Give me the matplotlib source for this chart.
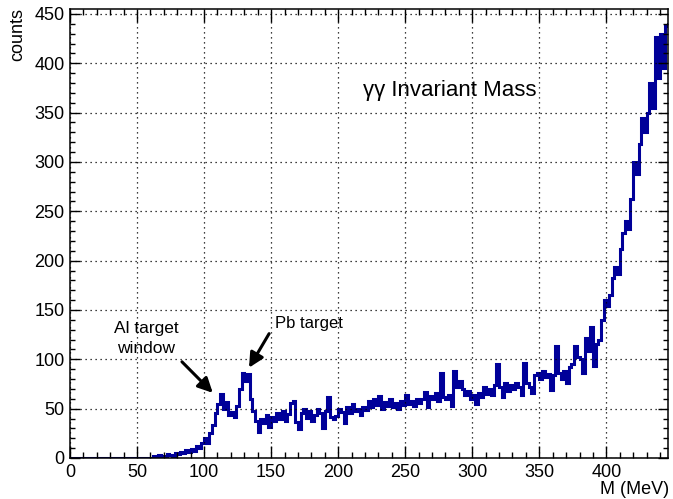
import numpy as np
import matplotlib
matplotlib.use('Agg')
import matplotlib.pyplot as plt
from matplotlib.ticker import MultipleLocator

plt.rcParams['font.family'] = ['Liberation Sans', 'DejaVu Sans']

# histogram of gamma-gamma invariant mass, 2 MeV bins starting at 0
bin_width = 2
counts = [0] * 31 + [
    2, 1, 3, 2, 1, 4, 3, 2, 5,                      # 62-78
    4, 6, 5, 8, 6, 9, 7, 12, 10, 15,                # 80-98
    20, 15, 25, 33, 46, 55, 65, 50, 57, 44,         # 100-118
    47, 42, 53, 70, 86, 78, 85, 60, 48, 38,         # 120-138
    26, 40, 35, 44, 31, 42, 38, 46, 40, 48,         # 140-158
    37, 45, 56, 58, 36, 29, 46, 50, 41, 48,         # 160-178
    38, 44, 50, 46, 30, 48, 62, 42, 40, 43,         # 180-198
    50, 47, 35, 52, 46, 55, 48, 50, 44, 52,         # 200-218
    49, 58, 52, 60, 54, 63, 50, 57, 53, 60,         # 220-238
    52, 56, 50, 58, 54, 64, 55, 58, 53, 60,         # 240-258
    56, 60, 67, 52, 63, 60, 66, 58, 86, 62,         # 260-278
    60, 64, 53, 88, 72, 78, 70, 64, 68, 60,         # 280-298
    64, 55, 66, 62, 72, 65, 70, 64, 74, 95,         # 300-318
    72, 62, 76, 68, 74, 70, 76, 72, 64, 96,         # 320-338
    76, 72, 66, 84, 86, 80, 88, 82, 85, 69,         # 340-358
    84, 113, 86, 80, 88, 76, 92, 95, 113, 102,      # 360-378
    100, 86, 122, 108, 133, 93, 116, 120, 140, 160, # 380-398
    154, 165, 182, 194, 186, 212, 228, 240, 232, 262,  # 400-418
    300, 288, 318, 345, 330, 350, 380, 355, 427, 385,  # 420-438
    430, 395, 438, 440,                             # 440-446
]
edges = np.arange(len(counts) + 1) * bin_width

x_ticks = [0, 50, 100, 150, 200, 250, 300, 350, 400]
y_ticks = [0, 50, 100, 150, 200, 250, 300, 350, 400, 450]

fig = plt.figure(figsize=(6.73, 4.99), dpi=100)
ax = fig.add_axes([70 / 673, 1 - 458 / 499, 598 / 673, 449 / 499])

ax.stairs(counts, edges, color='#000099', lw=2.2, baseline=None)

ax.set_xlim(0, 446)
ax.set_ylim(0, 455)
ax.set_xticks(x_ticks)
ax.set_yticks(y_ticks)
ax.xaxis.set_minor_locator(MultipleLocator(10))
ax.yaxis.set_minor_locator(MultipleLocator(10))
ax.tick_params(which='both', direction='in', top=True, right=True,
               labelsize=13, width=1.0, pad=4)
ax.tick_params(axis='x', which='major', length=9)
ax.tick_params(axis='x', which='minor', length=4.5)
ax.tick_params(axis='y', which='major', length=7)
ax.tick_params(axis='y', which='minor', length=3.5)
for sp in ax.spines.values():
    sp.set_linewidth(1.1)

ax.grid(True, which='major', linestyle=(0, (1, 3)), color='black', lw=0.9)

fig.text(669 / 673, 1 - 490 / 499, 'M (MeV)', ha='right', va='center', fontsize=13)
fig.text(18 / 673, 1 - 8 / 499, 'counts', ha='center', va='top', rotation=90, fontsize=13)

ax.text(283, 372, 'γγ Invariant Mass', ha='center', va='center', fontsize=16)
ax.text(57, 121, 'Al target\nwindow', ha='center', va='center', fontsize=12.5,
        linespacing=1.45)
ax.text(178, 136, 'Pb target', ha='center', va='center', fontsize=12)

arrow = dict(arrowstyle='-|>', lw=2.2, color='black', mutation_scale=22,
             shrinkA=0, shrinkB=0)
ax.annotate('', xy=(106.5, 66), xytext=(83.5, 97.5), arrowprops=arrow)
ax.annotate('', xy=(133.5, 91.5), xytext=(148.5, 126), arrowprops=arrow)

fig.savefig('out.png', dpi=100)
